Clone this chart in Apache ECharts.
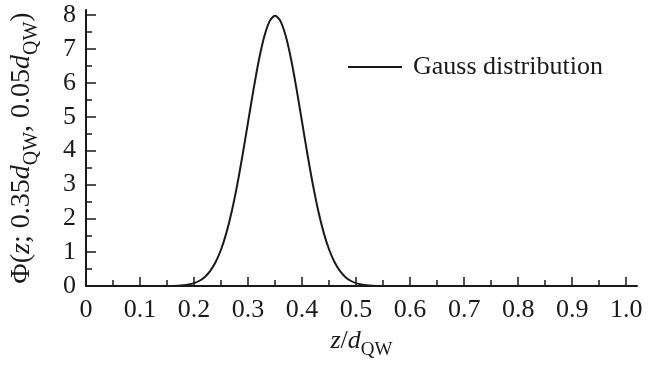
<!DOCTYPE html>
<html>
<head>
<meta charset="utf-8">
<script src="https://cdn.jsdelivr.net/npm/echarts@6/dist/echarts.min.js"></script>
<style>html,body{margin:0;padding:0;background:#fff;}#c{width:658px;height:365px;}</style>
</head>
<body>
<div id="c"></div>
<script>
const seriesName = 'Gauss distribution';
const zValues = [0, 0.05, 0.10, 0.12, 0.14, 0.15, 0.16, 0.17, 0.18, 0.19, 0.20, 0.21, 0.22, 0.23, 0.24, 0.25, 0.26, 0.27, 0.28, 0.29, 0.30, 0.31, 0.32, 0.33, 0.34, 0.35, 0.36, 0.37, 0.38, 0.39, 0.40, 0.41, 0.42, 0.43, 0.44, 0.45, 0.46, 0.47, 0.48, 0.49, 0.50, 0.51, 0.52, 0.53, 0.54, 0.55, 0.56, 0.58, 0.60, 0.65, 0.70, 0.80, 0.90, 1.00];
const phiValues = [0, 0, 0, 0.0002, 0.0012, 0.0027, 0.0058, 0.012, 0.025, 0.048, 0.089, 0.158, 0.272, 0.448, 0.710, 1.080, 1.579, 2.218, 2.995, 3.884, 4.839, 5.794, 6.665, 7.365, 7.821, 7.979, 7.821, 7.365, 6.665, 5.794, 4.839, 3.884, 2.995, 2.218, 1.579, 1.080, 0.710, 0.448, 0.272, 0.158, 0.089, 0.048, 0.025, 0.012, 0.006, 0.003, 0.001, 0.0002, 0, 0, 0, 0, 0, 0];
const xMajorTicks = [0, 0.1, 0.2, 0.3, 0.4, 0.5, 0.6, 0.7, 0.8, 0.9, 1.0];
const xTickLabels = ['0', '0.1', '0.2', '0.3', '0.4', '0.5', '0.6', '0.7', '0.8', '0.9', '1.0'];
const xMinorTicks = [0.05, 0.15, 0.25, 0.35, 0.45, 0.55, 0.65, 0.75, 0.85, 0.95];
const yMajorTicks = [0, 1, 2, 3, 4, 5, 6, 7, 8];
const yTickLabels = ['0', '1', '2', '3', '4', '5', '6', '7', '8'];
const yMinorTicks = [0.5, 1.5, 2.5, 3.5, 4.5, 5.5, 6.5, 7.5];

const FONT = 'Liberation Serif';
const INK = '#1a1a1a';
const chart = echarts.init(document.getElementById('c'));
const data = zValues.map((z, i) => [z, phiValues[i]]);

const baseAxis = {
  type: 'value',
  splitLine: { show: false },
  axisLine: { show: true, onZero: false, lineStyle: { color: INK, width: 2 } },
};

chart.setOption({
  animation: false,
  backgroundColor: '#fff',
  grid: { left: 82, right: 21, top: 10, bottom: 74, containLabel: false },
  legend: {
    left: 348, top: 54, padding: 0,
    icon: 'rect', itemWidth: 54, itemHeight: 2,
    itemStyle: { color: INK },
    textStyle: { fontFamily: FONT, fontSize: 26, color: INK, padding: [0, 0, 0, 6] },
    data: [seriesName]
  },
  xAxis: [
    Object.assign({}, baseAxis, {
      min: 0, max: 1.02,
      name: '{i|z}{n|/}{i|d}{s|QW}',
      nameLocation: 'middle', nameGap: 34,
      nameTextStyle: {
        rich: {
          i: { fontFamily: FONT, fontStyle: 'italic', fontSize: 26, color: INK, lineHeight: 32, verticalAlign: 'top' },
          n: { fontFamily: FONT, fontSize: 26, color: INK, lineHeight: 32, verticalAlign: 'top' },
          s: { fontFamily: FONT, fontSize: 19, color: INK, lineHeight: 32, verticalAlign: 'bottom' }
        }
      },
      axisTick: { show: true, inside: true, length: 9, customValues: xMajorTicks, lineStyle: { color: INK, width: 1.5 } },
      axisLabel: {
        show: true, margin: 11, customValues: xMajorTicks,
        fontFamily: FONT, fontSize: 26, color: INK,
        formatter: v => xTickLabels[xMajorTicks.findIndex(t => Math.abs(t - v) < 1e-6)] || ''
      }
    }),
    Object.assign({}, baseAxis, {
      min: 0, max: 1.02, position: 'bottom',
      axisLine: { show: false },
      axisTick: { show: true, inside: true, length: 6, customValues: xMinorTicks, lineStyle: { color: INK, width: 1.5 } },
      axisLabel: { show: false }
    })
  ],
  yAxis: [
    Object.assign({}, baseAxis, {
      min: 0, max: 8.15,
      name: '{n|Φ(}{i|z}{n|; 0.35}{i|d}{s|QW}{n|, 0.05}{i|d}{s|QW}{n|)}',
      nameLocation: 'middle', nameGap: 44, nameRotate: 90,
      nameTextStyle: {
        rich: {
          i: { fontFamily: FONT, fontStyle: 'italic', fontSize: 28, color: INK, lineHeight: 34, verticalAlign: 'top' },
          n: { fontFamily: FONT, fontSize: 28, color: INK, lineHeight: 34, verticalAlign: 'top' },
          s: { fontFamily: FONT, fontSize: 20, color: INK, lineHeight: 34, verticalAlign: 'bottom' }
        }
      },
      axisTick: { show: true, inside: true, length: 10, customValues: yMajorTicks, lineStyle: { color: INK, width: 1.5 } },
      axisLabel: {
        show: true, margin: 10, customValues: yMajorTicks,
        fontFamily: FONT, fontSize: 26, color: INK,
        formatter: v => yTickLabels[yMajorTicks.findIndex(t => Math.abs(t - v) < 1e-6)] || ''
      }
    }),
    Object.assign({}, baseAxis, {
      min: 0, max: 8.15, position: 'left',
      axisLine: { show: false },
      axisTick: { show: true, inside: true, length: 6, customValues: yMinorTicks, lineStyle: { color: INK, width: 1.5 } },
      axisLabel: { show: false }
    })
  ],
  series: [{
    name: seriesName,
    type: 'line',
    data: data,
    showSymbol: false,
    symbol: 'none',
    smooth: 0.3,
    lineStyle: { color: INK, width: 2 },
    itemStyle: { color: INK },
    z: 3
  }]
});
</script>
</body>
</html>
